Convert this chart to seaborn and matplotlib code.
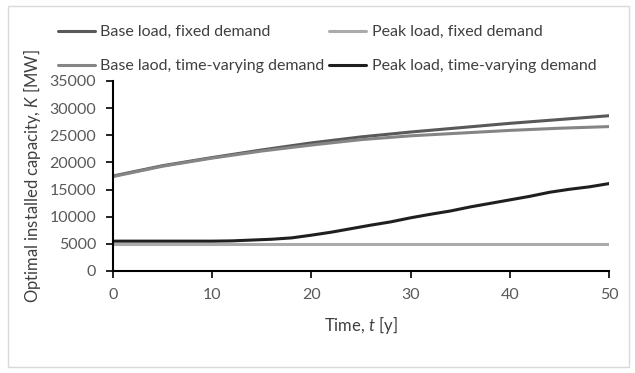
import matplotlib
matplotlib.use("Agg")
import matplotlib.pyplot as plt
from matplotlib.patches import Rectangle
import numpy as np
import pandas as pd
import seaborn as sns

# Optimal installed capacity over the planning horizon
t_base = [0, 5, 10, 15, 20, 25, 30, 35, 40, 45, 50]
base_fixed = [17500, 19400, 20900, 22300, 23600, 24700, 25600, 26400, 27200, 27900, 28600]
base_varying = [17400, 19300, 20800, 22100, 23200, 24200, 24900, 25400, 25900, 26300, 26600]
peak_fixed = [5000] * len(t_base)

t_peak = list(range(0, 51, 2))
peak_varying = [5500, 5500, 5500, 5500, 5500, 5500, 5550, 5700, 5850, 6100,
                6600, 7150, 7800, 8450, 9050, 9800, 10450, 11050, 11800, 12450,
                13100, 13750, 14500, 15050, 15500, 16100]

labels = ["Base load, fixed demand", "Base laod, time-varying demand",
          "Peak load, fixed demand", "Peak load, time-varying demand"]
colors = ["#595959", "#858585", "#ababab", "#1f1f1f"]

frames = [
    pd.DataFrame({"t": t_base, "K": base_fixed, "series": labels[0]}),
    pd.DataFrame({"t": t_base, "K": base_varying, "series": labels[1]}),
    pd.DataFrame({"t": t_base, "K": peak_fixed, "series": labels[2]}),
    pd.DataFrame({"t": t_peak, "K": peak_varying, "series": labels[3]}),
]
df = pd.concat(frames, ignore_index=True)

sns.set_theme(style="white")
plt.rcParams["font.family"] = ["Lato", "DejaVu Sans"]
plt.rcParams["mathtext.fontset"] = "custom"
plt.rcParams["mathtext.it"] = "Lato:italic"
plt.rcParams["mathtext.rm"] = "Lato"

fig = plt.figure(figsize=(6.35, 3.73), dpi=100)
ax = fig.add_axes([113 / 635, 1 - 271 / 373, 496 / 635, 190 / 373])

sns.lineplot(data=df, x="t", y="K", hue="series", hue_order=labels,
             palette=colors, linewidth=2.2, ax=ax, legend=False)

ax.set_xlim(0, 50)
ax.set_ylim(0, 35000)
ax.set_xticks(np.arange(0, 51, 10))
ax.set_yticks(np.arange(0, 35001, 5000))
for s in ["top", "right"]:
    ax.spines[s].set_visible(False)
for s in ["left", "bottom"]:
    ax.spines[s].set_color("black")
    ax.spines[s].set_linewidth(1.5)
ax.tick_params(axis="both", direction="out", length=5, width=1.2, color="black",
               labelsize=11.5, labelcolor="#595959", pad=7,
               bottom=True, left=True)

ax.set_xlabel("Time, $\\mathit{t}$ [y]", fontsize=12, color="#404040", labelpad=9)
ax.set_ylabel("Optimal installed capacity, $\\mathit{K}$ [MW]", fontsize=12,
              color="#404040", labelpad=5)

handles = [plt.Line2D([], [], color=c, lw=2.2) for c in colors]
fig.legend(handles, labels, loc="upper left", bbox_to_anchor=(58 / 635, 1 - 25 / 373),
           ncol=2, frameon=False, fontsize=11.5, labelcolor="#404040",
           handlelength=2.3, handletextpad=0.35, columnspacing=0.3,
           labelspacing=1.25, borderpad=0, borderaxespad=0)

fig.patches.append(Rectangle((8 / 635, 6 / 373), 621 / 635, 361 / 373,
                             transform=fig.transFigure, fill=False,
                             edgecolor="#d9d9d9", linewidth=1))

fig.savefig("out.png", dpi=100)
